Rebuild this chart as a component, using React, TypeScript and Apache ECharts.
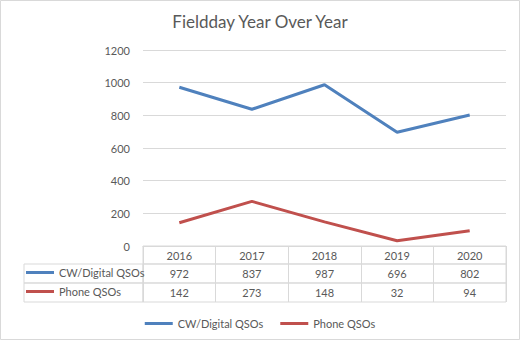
import React, { useEffect, useRef } from 'react';
import * as echarts from 'echarts';

const years = ['2016', '2017', '2018', '2019', '2020'];
const cwQsos = [972, 837, 987, 696, 802];
const phoneQsos = [142, 273, 148, 32, 94];
const seriesNames = ['CW/Digital QSOs', 'Phone QSOs'];
const yMin = 0;
const yMax = 1200;
const yStep = 200;

const FONT = 'Lato, "Noto Sans", sans-serif';
const TXT = '#595959';
const GRID = '#d9d9d9';
const BLUE = '#4f81bd';
const RED = '#c0504d';
const FS = 11;

export default function App() {
  const ref = useRef<HTMLDivElement>(null);
  useEffect(() => {
    if (!ref.current) return;
    const chart = echarts.init(ref.current, undefined, { renderer: 'svg' });
    const L = 143, W = 363;
    const hiddenY = (gi: number) => ({ gridIndex: gi, type: 'value', show: false });
    const tableX = (gi: number, fmt: ((v: string, i: number) => string) | null) => ({
      gridIndex: gi,
      type: 'category',
      data: years,
      boundaryGap: true,
      axisLine: { show: false },
      axisTick: { show: false },
      axisLabel: fmt
        ? { show: true, inside: true, margin: 4, interval: 0, formatter: fmt, color: TXT, fontSize: FS, fontFamily: FONT }
        : { show: false },
      splitLine: { show: true, interval: 0, lineStyle: { color: GRID, width: 1 } },
    });
    const rowLegend = (name: string, top: number) => ({
      data: [name],
      orient: 'vertical',
      left: 26,
      top,
      itemWidth: 28,
      itemHeight: 3,
      icon: 'rect',
      selectedMode: false,
      padding: 0,
      textStyle: { fontSize: FS, color: TXT, fontFamily: FONT },
    });
    chart.setOption({
      animation: false,
      textStyle: { fontFamily: FONT },
      title: {
        text: 'Fieldday Year Over Year',
        left: 'center',
        top: 8,
        textStyle: { fontSize: 17, fontWeight: 'normal', color: TXT, fontFamily: FONT },
      },
      grid: [
        { left: L, width: W, top: 50, height: 196 },
        { left: L, width: W, top: 246, height: 18, show: true, borderColor: GRID, borderWidth: 1 },
        { left: L, width: W, top: 264, height: 19, show: true, borderColor: GRID, borderWidth: 1 },
        { left: L, width: W, top: 283, height: 19, show: true, borderColor: GRID, borderWidth: 1 },
      ],
      xAxis: [
        {
          gridIndex: 0,
          type: 'category',
          data: years,
          boundaryGap: true,
          axisLine: { show: true, lineStyle: { color: GRID } },
          axisTick: { show: false },
          axisLabel: { margin: 4, interval: 0, color: TXT, fontSize: FS, fontFamily: FONT },
        },
        tableX(1, null),
        tableX(2, (_v, i) => String(cwQsos[i])),
        tableX(3, (_v, i) => String(phoneQsos[i])),
      ],
      yAxis: [
        {
          gridIndex: 0,
          type: 'value',
          min: yMin,
          max: yMax,
          interval: yStep,
          axisLine: { show: false },
          axisTick: { show: false },
          axisLabel: { margin: 13, color: TXT, fontSize: FS, fontFamily: FONT, formatter: (v: number) => String(v) },
          splitLine: { lineStyle: { color: GRID, width: 1 } },
        },
        hiddenY(1),
        hiddenY(2),
        hiddenY(3),
      ],
      legend: [
        rowLegend(seriesNames[0], 267),
        rowLegend(seriesNames[1], 286),
        {
          data: seriesNames,
          orient: 'horizontal',
          left: 'center',
          top: 313,
          itemGap: 17,
          itemWidth: 28,
          itemHeight: 3,
          icon: 'rect',
          selectedMode: false,
          textStyle: { fontSize: FS, color: TXT, fontFamily: FONT },
        },
      ],
      graphic: [
        { type: 'rect', shape: { x: 0.5, y: 0.5, width: 519, height: 339 }, style: { fill: 'none', stroke: GRID, lineWidth: 1 }, silent: true },
        { type: 'rect', shape: { x: 24, y: 264, width: 119, height: 19 }, style: { fill: 'none', stroke: GRID, lineWidth: 1 }, silent: true },
        { type: 'rect', shape: { x: 24, y: 283, width: 119, height: 19 }, style: { fill: 'none', stroke: GRID, lineWidth: 1 }, silent: true },
      ],
      series: [
        {
          name: seriesNames[0],
          type: 'line',
          xAxisIndex: 0,
          yAxisIndex: 0,
          data: cwQsos,
          symbol: 'none',
          lineStyle: { color: BLUE, width: 3 },
          itemStyle: { color: BLUE },
        },
        {
          name: seriesNames[1],
          type: 'line',
          xAxisIndex: 0,
          yAxisIndex: 0,
          data: phoneQsos,
          symbol: 'none',
          lineStyle: { color: RED, width: 3 },
          itemStyle: { color: RED },
        },
      ],
    });
    return () => chart.dispose();
  }, []);
  return <div ref={ref} style={{ position: 'absolute', left: 0, top: 0, width: 520, height: 340, background: '#fff' }} />;
}
